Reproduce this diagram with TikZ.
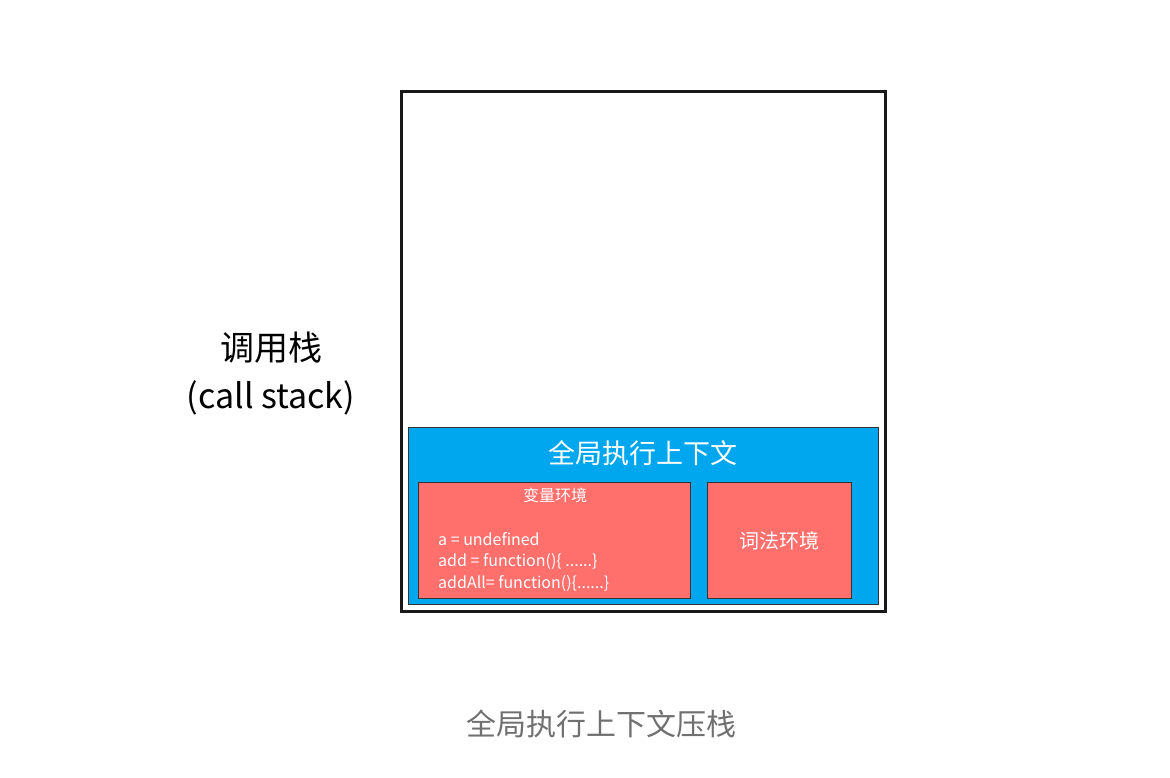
\documentclass[tikz,border=0pt]{standalone}
\usepackage{fontspec}
\setmainfont{Noto Sans CJK SC}
\usetikzlibrary{positioning}
\definecolor{ctxblue}{HTML}{00A6EE}
\definecolor{envred}{HTML}{FF6F6B}
\definecolor{capgray}{HTML}{707070}
\tikzstyle{stackbox} = [rectangle, draw=black!90, line width=3pt, fill=white]
\tikzstyle{ctxbox} = [rectangle, draw=black!80, line width=1pt, fill=ctxblue]
\tikzstyle{envbox} = [rectangle, draw=black!80, line width=0.8pt, fill=envred]
\tikzstyle{whitetext} = [text=white, inner sep=0pt]
\tikzstyle{codeline} = [whitetext, anchor=west, font=\fontsize{16}{18}\selectfont]
\begin{document}
\begin{tikzpicture}[x=1pt, y=-1pt]
\useasboundingbox (0,0) rectangle (1170,778);

%Boxes
\draw [stackbox] (401,92) rectangle (885,611);
\draw [ctxbox] (408,427) rectangle (878,604);
\node (varenv) [envbox, minimum width=272pt, minimum height=116pt, anchor=north west] at (418,482) {};
\node (lexenv) [envbox, minimum width=144pt, minimum height=116pt, anchor=north west] at (707,482) {};

%Texts
\node (stack) [align=center, font=\fontsize{34}{48}\selectfont] at (271,374) {调用栈\\(call stack)};
\node (global) [whitetext, font=\fontsize{27}{30}\selectfont] at (643,453) {全局执行上下文};
\node (vartitle) [whitetext, font=\fontsize{16}{18}\selectfont] at (555,495) {变量环境};
\node (line1) [codeline] at (438,539) {a = undefined};
\node (line2) [codeline] at (438,562) {add = function()\{ ......\}};
\node (line3) [codeline] at (438,584) {addAll= function()\{......\}};
\node (lexname) [whitetext, font=\fontsize{20}{22}\selectfont] at (lexenv) {词法环境};
\node (caption) [text=capgray, font=\fontsize{30}{34}\selectfont] at (601,724) {全局执行上下文压栈};

\end{tikzpicture}
\end{document}
